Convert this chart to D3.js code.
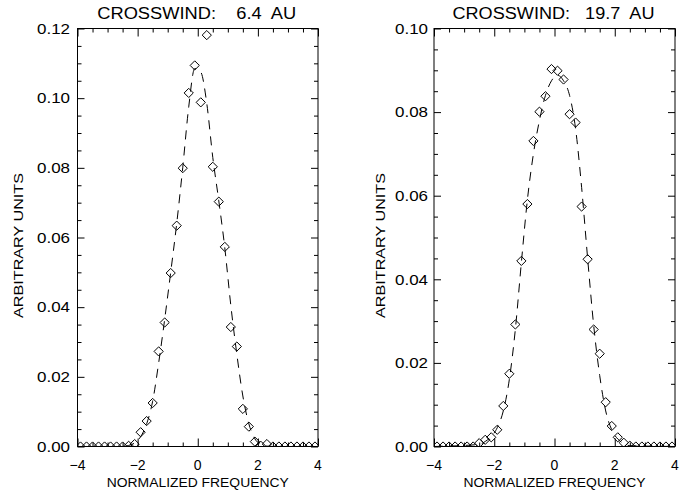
<!DOCTYPE html>
<html><head><meta charset="utf-8">
<script src="https://cdn.jsdelivr.net/npm/d3@7"></script>
<style>
body{margin:0;background:#fff}
svg text{font-family:"Liberation Sans",Arial,sans-serif;fill:#000}
</style>
</head><body><svg id="c" width="696" height="497"></svg>
<script>
// ---- data ----
const xValues = [-3.9,-3.7,-3.5,-3.3,-3.1,-2.9,-2.7,-2.5,-2.3,-2.1,-1.9,-1.7,-1.5,-1.3,-1.1,-0.9,-0.7,-0.5,-0.3,-0.1,
                 0.1,0.3,0.5,0.7,0.9,1.1,1.3,1.5,1.7,1.9,2.1,2.3,2.5,2.7,2.9,3.1,3.3,3.5,3.7,3.9];
const values64 = [0,0,0,0,0,0,0,0,0.0002,0.0007,0.0041,0.0073,0.0125,0.0273,0.0356,0.0498,0.0634,0.0799,0.1015,0.1094,
                  0.0988,0.1181,0.0803,0.0703,0.0573,0.0343,0.0287,0.0108,0.0057,0.0014,0.0002,0.0007,0,0,0,0,0,0,0,0];
const values197 = [0,0,0,0,0,0,0,0.0008,0.0016,0.0022,0.0040,0.0097,0.0174,0.0292,0.0444,0.0580,0.0731,0.0801,0.0838,0.0903,
                   0.0899,0.0878,0.0795,0.0775,0.0574,0.0448,0.0280,0.0222,0.0106,0.0049,0.0022,0.0009,0.0002,0,0,0,0,0,0,0];
const fitX = [-4,-2.5,-2.3,-2.1,-1.9,-1.7,-1.5,-1.3,-1.1,-0.9,-0.7,-0.5,-0.3,-0.1,0.1,0.3,0.5,0.7,0.9,1.1,1.3,1.5,1.7,1.9,2.1,2.3,2.5,4];
const fit64 = [0,0,0.0003,0.001,0.0028,0.0065,0.013,0.024,0.0365,0.050,0.064,0.080,0.0975,0.1085,0.1075,0.0985,0.083,0.0705,0.057,0.0405,0.0265,0.0145,0.0065,0.0022,0.0006,0.0001,0,0];
const fit197 = [0,0.0005,0.0012,0.0024,0.0045,0.0085,0.016,0.028,0.044,0.059,0.070,0.078,0.084,0.0875,0.0888,0.0875,0.084,0.076,0.062,0.045,0.029,0.017,0.0085,0.004,0.0018,0.0007,0.0002,0];
const xTicks = [-4,-2,0,2,4];
const xMinorTicks = [-3.5,-3,-2.5,-1.5,-1,-0.5,0.5,1,1.5,2.5,3,3.5];
const yTicks64 = [0,0.02,0.04,0.06,0.08,0.10,0.12];
const yTicks197 = [0,0.02,0.04,0.06,0.08,0.10];
const titleWord = "CROSSWIND:";
const distances = ["6.4","19.7"];
const unit = "AU";
const xTitle = "NORMALIZED FREQUENCY";
const yTitle = "ARBITRARY UNITS";

// ---- layout ----
const panels = [
  {left:77.5, right:318, top:28.5, bottom:446.5, yMax:0.12, yTicks:yTicks64, vals:values64, fit:fit64, dist:distances[0], ylabX:18.5, labGap:7.5},
  {left:434, right:675, top:28.5, bottom:446.5, yMax:0.10, yTicks:yTicks197, vals:values197, fit:fit197, dist:distances[1], ylabX:380.5, labGap:6}
];
const svg = d3.select("#c");
const fmtY = d3.format(".2f");

panels.forEach((p,i)=>{
  const x = d3.scaleLinear().domain([-4,4]).range([p.left,p.right]);
  const y = d3.scaleLinear().domain([0,p.yMax]).range([p.bottom,p.top]);
  const yMinor = d3.range(0, Math.round(p.yMax/0.005)+1).map(k=>k*0.005).filter(v=>Math.abs(v/0.02-Math.round(v/0.02))>1e-6);
  const g = svg.append("g");
  const clipId = "clip"+i;
  svg.append("clipPath").attr("id",clipId).append("rect")
     .attr("x",p.left).attr("y",p.top).attr("width",p.right-p.left).attr("height",p.bottom-p.top);

  // axes
  const ax = (gen, tr) => { const a = g.append("g").attr("transform",tr).call(gen);
      a.select(".domain").remove(); a.selectAll("line").attr("stroke","#000").attr("stroke-width",1); a.selectAll("text").remove(); return a; };
  ax(d3.axisBottom(x).tickValues(xTicks).tickSize(-8).tickSizeOuter(0), `translate(0,${p.bottom})`);
  ax(d3.axisBottom(x).tickValues(xMinorTicks).tickSize(-4).tickSizeOuter(0), `translate(0,${p.bottom})`);
  ax(d3.axisTop(x).tickValues(xTicks).tickSize(-8).tickSizeOuter(0), `translate(0,${p.top})`);
  ax(d3.axisTop(x).tickValues(xMinorTicks).tickSize(-4).tickSizeOuter(0), `translate(0,${p.top})`);
  ax(d3.axisLeft(y).tickValues(p.yTicks).tickSize(-7).tickSizeOuter(0), `translate(${p.left},0)`);
  ax(d3.axisLeft(y).tickValues(yMinor).tickSize(-4).tickSizeOuter(0), `translate(${p.left},0)`);
  ax(d3.axisRight(y).tickValues(p.yTicks).tickSize(-7).tickSizeOuter(0), `translate(${p.right},0)`);
  ax(d3.axisRight(y).tickValues(yMinor).tickSize(-4).tickSizeOuter(0), `translate(${p.right},0)`);

  g.append("rect").attr("x",p.left).attr("y",p.top).attr("width",p.right-p.left).attr("height",p.bottom-p.top)
   .attr("fill","none").attr("stroke","#000").attr("stroke-width",1);

  // tick labels
  g.selectAll(".xl").data(xTicks).join("text").attr("x",d=>x(d)).attr("y",p.bottom+23)
   .attr("text-anchor","middle").attr("font-size",14).text(d=>d<0?"\u2212"+Math.abs(d):String(d));
  g.selectAll(".yl").data(p.yTicks).join("text").attr("x",p.left-p.labGap).attr("y",d=>y(d)).attr("dy","0.36em")
   .attr("text-anchor","end").attr("font-size",14.5).attr("textLength",33).attr("lengthAdjust","spacingAndGlyphs").text(d=>fmtY(d));

  // axis titles
  const cx = (p.left+p.right)/2;
  g.append("text").attr("x",cx).attr("y",487).attr("text-anchor","middle").attr("font-size",12.5)
   .attr("textLength",182).attr("lengthAdjust","spacingAndGlyphs").text(xTitle);
  g.append("text").attr("transform",`translate(${p.ylabX},245.5) rotate(-90)`).attr("dy","0.36em").attr("text-anchor","middle")
   .attr("font-size",12.5).attr("textLength",145).attr("lengthAdjust","spacingAndGlyphs").text(yTitle);
  g.append("text").attr("x",cx-1).attr("y",18.5).attr("text-anchor","middle").attr("font-size",16)
   .attr("xml:space","preserve").style("white-space","pre")
   .attr("textLength",i===0?199:202).attr("lengthAdjust","spacingAndGlyphs")
   .text(i===0 ? `${titleWord}    ${p.dist}  ${unit}` : `${titleWord}   ${p.dist}  ${unit}`);

  // fitted dashed curve
  const line = d3.line().x((d,k)=>x(fitX[k])).y(d=>y(d)).curve(d3.curveMonotoneX);
  g.append("path").attr("clip-path",`url(#${clipId})`).attr("d",line(p.fit))
   .attr("fill","none").attr("stroke","#000").attr("stroke-width",1).attr("stroke-dasharray","9,7");

  // diamond symbols
  const r = 4.6;
  g.append("g").attr("clip-path",`url(#${clipId})`).selectAll("path").data(p.vals).join("path")
   .attr("transform",(d,k)=>`translate(${x(xValues[k])},${y(d)})`)
   .attr("d",`M0,${-r}L${r},0L0,${r}L${-r},0Z`)
   .attr("fill","none").attr("stroke","#000").attr("stroke-width",1);
});
</script>
</body></html>
